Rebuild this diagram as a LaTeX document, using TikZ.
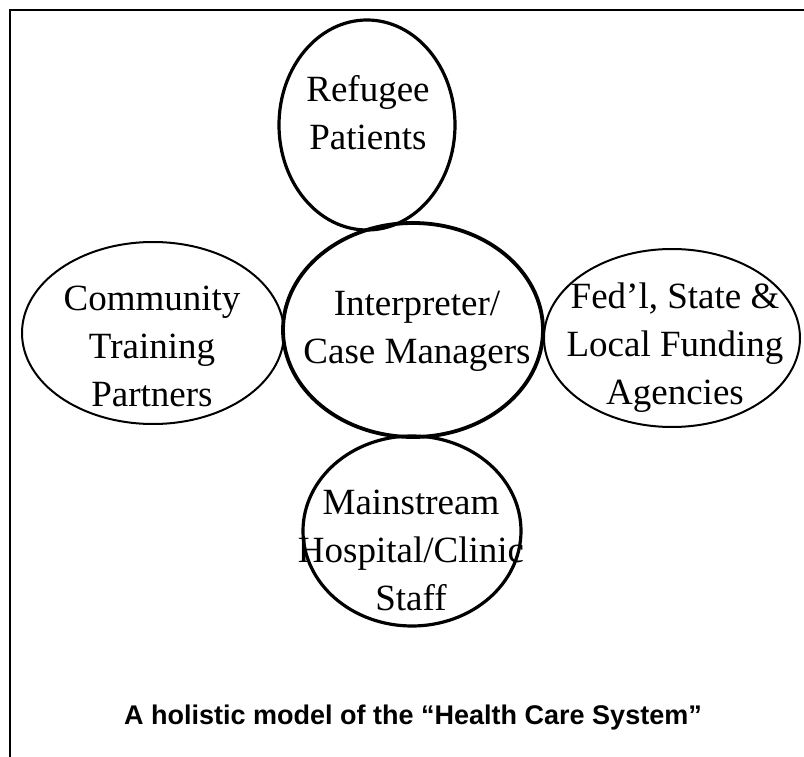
\documentclass[tikz,border=0pt]{standalone}
\usepackage{fontspec}
\setmainfont{Liberation Serif}
\newfontfamily\capfont{Liberation Sans}
\usetikzlibrary{shapes.geometric}
\begin{document}
\begin{tikzpicture}[x=1pt,y=-1pt,
  oval/.style={draw=black,ellipse,inner sep=0pt},
  lbl/.style={align=center,font=\fontsize{37}{48}\selectfont,inner sep=0pt}]
\useasboundingbox (0,0) rectangle (804,757);
\coordinate (fb) at (10,757);
\coordinate (ftl) at (10,10);
\coordinate (ftr) at (804,10);
\draw[line width=2pt] (fb) -- (ftl) -- (ftr);
% ellipses
\node[oval,line width=2pt,minimum width=262pt,minimum height=182pt] (left) at (153,333) {};
\node[oval,line width=2pt,minimum width=256pt,minimum height=178pt] (right) at (672,338) {};
\node[oval,line width=3.2pt,minimum width=176pt,minimum height=210pt] (top) at (367,125) {};
\node[oval,line width=3.2pt,minimum width=218pt,minimum height=190pt] (bottom) at (412,531) {};
\node[oval,line width=3.8pt,minimum width=260pt,minimum height=214pt] (center) at (413,330) {};
% labels
\node[lbl] (ttop) at (368,113) {Refugee\\Patients};
\node[lbl] (tcenter) at (417,331) {Interpreter/\\Case Managers};
\node[lbl] (tleft) at (152,346) {Community\\Training\\Partners};
\node[lbl] (tright) at (675,348) {Fed'l, State \&\\Local Funding\\Agencies};
\node[lbl] (tbottom) at (411,550) {Mainstream\\Hospital/Clinic\\Staff};
\node[font=\capfont\bfseries\fontsize{27}{30}\selectfont,inner sep=0pt] (cap) at (413,718) {A holistic model of the “Health Care System”};
\end{tikzpicture}
\end{document}
